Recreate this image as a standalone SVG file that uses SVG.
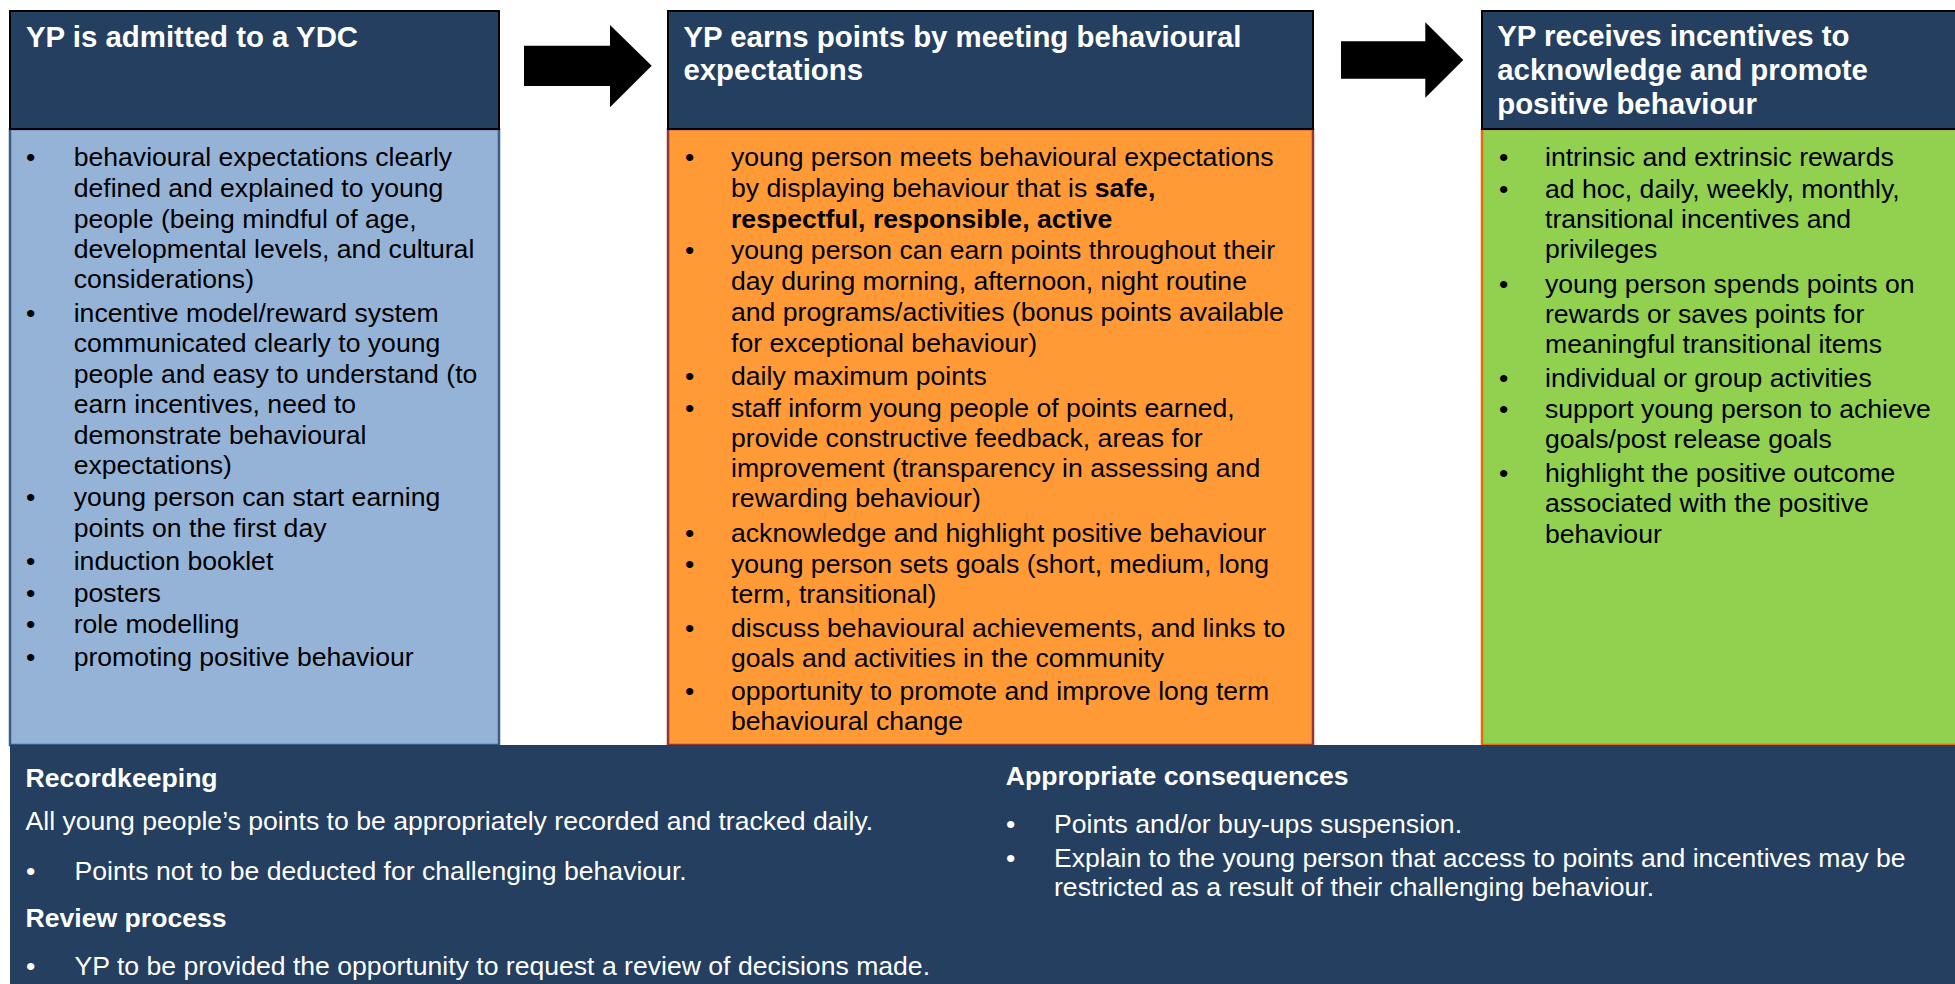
<svg xmlns="http://www.w3.org/2000/svg" width="1955" height="984" viewBox="0 0 1955 984">
<style>
.hdr{fill:#243F60;stroke:#000;stroke-width:2}
.ht{font-family:"Liberation Sans",Arial,sans-serif;font-weight:bold;font-size:29.4px;fill:#fff}
.bt{font-family:"Liberation Sans",Arial,sans-serif;font-size:26.6px;fill:#000}
.wt{font-family:"Liberation Sans",Arial,sans-serif;font-size:26.6px;fill:#fff}
.wb{font-family:"Liberation Sans",Arial,sans-serif;font-size:26.6px;font-weight:bold;fill:#fff}
.b{font-weight:bold}
.arrow{fill:#000}
</style>
<rect x="0" y="0" width="1955" height="984" fill="#fff"/>

<g id="node-admitted">
<rect x="10" y="129" width="489" height="616" fill="#95B3D7" stroke="#385D8A" stroke-width="2.5"/>
<rect class="hdr" x="10" y="11" width="489" height="118"/>
<text class="ht" x="26" y="46.5">YP is admitted to a YDC</text>
<g class="bt">
<text x="26" y="166">•</text><text x="73.7" y="166">behavioural expectations clearly</text>
<text x="73.7" y="196.5">defined and explained to young</text>
<text x="73.7" y="227.5">people (being mindful of age,</text>
<text x="73.7" y="257.5">developmental levels, and cultural</text>
<text x="73.7" y="287.5">considerations)</text>
<text x="26" y="321.5">•</text><text x="73.7" y="321.5">incentive model/reward system</text>
<text x="73.7" y="351.5">communicated clearly to young</text>
<text x="73.7" y="382.5">people and easy to understand (to</text>
<text x="73.7" y="413">earn incentives, need to</text>
<text x="73.7" y="443.5">demonstrate behavioural</text>
<text x="73.7" y="473.5">expectations)</text>
<text x="26" y="506">•</text><text x="73.7" y="506">young person can start earning</text>
<text x="73.7" y="536.5">points on the first day</text>
<text x="26" y="570">•</text><text x="73.7" y="570">induction booklet</text>
<text x="26" y="601.5">•</text><text x="73.7" y="601.5">posters</text>
<text x="26" y="633">•</text><text x="73.7" y="633">role modelling</text>
<text x="26" y="665.5">•</text><text x="73.7" y="665.5">promoting positive behaviour</text>
</g>
</g>

<g id="node-earns">
<rect x="668" y="129" width="645" height="616" fill="#FF9A36" stroke="#943634" stroke-width="2.5"/>
<rect class="hdr" x="668" y="11" width="645" height="118"/>
<text class="ht" x="683.4" y="46.5">YP earns points by meeting behavioural</text>
<text class="ht" x="683.4" y="80">expectations</text>
<g class="bt">
<text x="685" y="165.7">•</text><text x="731" y="165.7">young person meets behavioural expectations</text>
<text x="731" y="196.7">by displaying behaviour that is <tspan class="b">safe,</tspan></text>
<text x="731" y="227.7" class="b">respectful, responsible, active</text>
<text x="685" y="259.3">•</text><text x="731" y="259.3">young person can earn points throughout their</text>
<text x="731" y="290">day during morning, afternoon, night routine</text>
<text x="731" y="320.7">and programs/activities (bonus points available</text>
<text x="731" y="351.7">for exceptional behaviour)</text>
<text x="685" y="385">•</text><text x="731" y="385">daily maximum points</text>
<text x="685" y="416.7">•</text><text x="731" y="416.7">staff inform young people of points earned,</text>
<text x="731" y="447.3">provide constructive feedback, areas for</text>
<text x="731" y="477.3">improvement (transparency in assessing and</text>
<text x="731" y="507.3">rewarding behaviour)</text>
<text x="685" y="541.7">•</text><text x="731" y="541.7">acknowledge and highlight positive behaviour</text>
<text x="685" y="573.3">•</text><text x="731" y="573.3">young person sets goals (short, medium, long</text>
<text x="731" y="603.3">term, transitional)</text>
<text x="685" y="636.7">•</text><text x="731" y="636.7">discuss behavioural achievements, and links to</text>
<text x="731" y="666.7">goals and activities in the community</text>
<text x="685" y="700">•</text><text x="731" y="700">opportunity to promote and improve long term</text>
<text x="731" y="730">behavioural change</text>
</g>
</g>

<g id="node-incentives">
<rect x="1482" y="129" width="480" height="616" fill="#92D050" stroke="#E36C09" stroke-width="2.5"/>
<rect class="hdr" x="1482" y="11" width="480" height="118"/>
<text class="ht" x="1497.2" y="46">YP receives incentives to</text>
<text class="ht" x="1497.2" y="80">acknowledge and promote</text>
<text class="ht" x="1497.2" y="113.5">positive behaviour</text>
<g class="bt">
<text x="1499" y="165.7">•</text><text x="1545" y="165.7">intrinsic and extrinsic rewards</text>
<text x="1499" y="198.3">•</text><text x="1545" y="198.3">ad hoc, daily, weekly, monthly,</text>
<text x="1545" y="228.3">transitional incentives and</text>
<text x="1545" y="258.3">privileges</text>
<text x="1499" y="292.7">•</text><text x="1545" y="292.7">young person spends points on</text>
<text x="1545" y="322.7">rewards or saves points for</text>
<text x="1545" y="352.7">meaningful transitional items</text>
<text x="1499" y="386.7">•</text><text x="1545" y="386.7">individual or group activities</text>
<text x="1499" y="418.3">•</text><text x="1545" y="418.3">support young person to achieve</text>
<text x="1545" y="448.3">goals/post release goals</text>
<text x="1499" y="481.7">•</text><text x="1545" y="481.7">highlight the positive outcome</text>
<text x="1545" y="511.7">associated with the positive</text>
<text x="1545" y="542.7">behaviour</text>
</g>
</g>

<g id="node-footer">
<rect x="10" y="745" width="1955" height="245" fill="#243F60"/>
<text class="wb" x="25.5" y="786.7">Recordkeeping</text>
<text class="wt" x="25.5" y="830">All young people’s points to be appropriately recorded and tracked daily.</text>
<text class="wt" x="26" y="880">•</text><text class="wt" x="74.6" y="880">Points not to be deducted for challenging behaviour.</text>
<text class="wb" x="25.5" y="926.7">Review process</text>
<text class="wt" x="26" y="975">•</text><text class="wt" x="74.6" y="975">YP to be provided the opportunity to request a review of decisions made.</text>
<text class="wb" x="1005.7" y="785">Appropriate consequences</text>
<text class="wt" x="1006" y="833.3">•</text><text class="wt" x="1054" y="833.3">Points and/or buy-ups suspension.</text>
<text class="wt" x="1006" y="866.7">•</text><text class="wt" x="1054" y="866.7">Explain to the young person that access to points and incentives may be</text>
<text class="wt" x="1054" y="895.7">restricted as a result of their challenging behaviour.</text>
</g>

<g id="connectors">
<polygon class="arrow" points="524,45.7 610,45.7 610,25 651.7,65.7 610,107.3 610,86 524,86"/>
<polygon class="arrow" points="1341,41.3 1425.3,41.3 1425.3,22.3 1463.3,60 1425.3,97.7 1425.3,78.7 1341,78.7"/>
</g>
</svg>
